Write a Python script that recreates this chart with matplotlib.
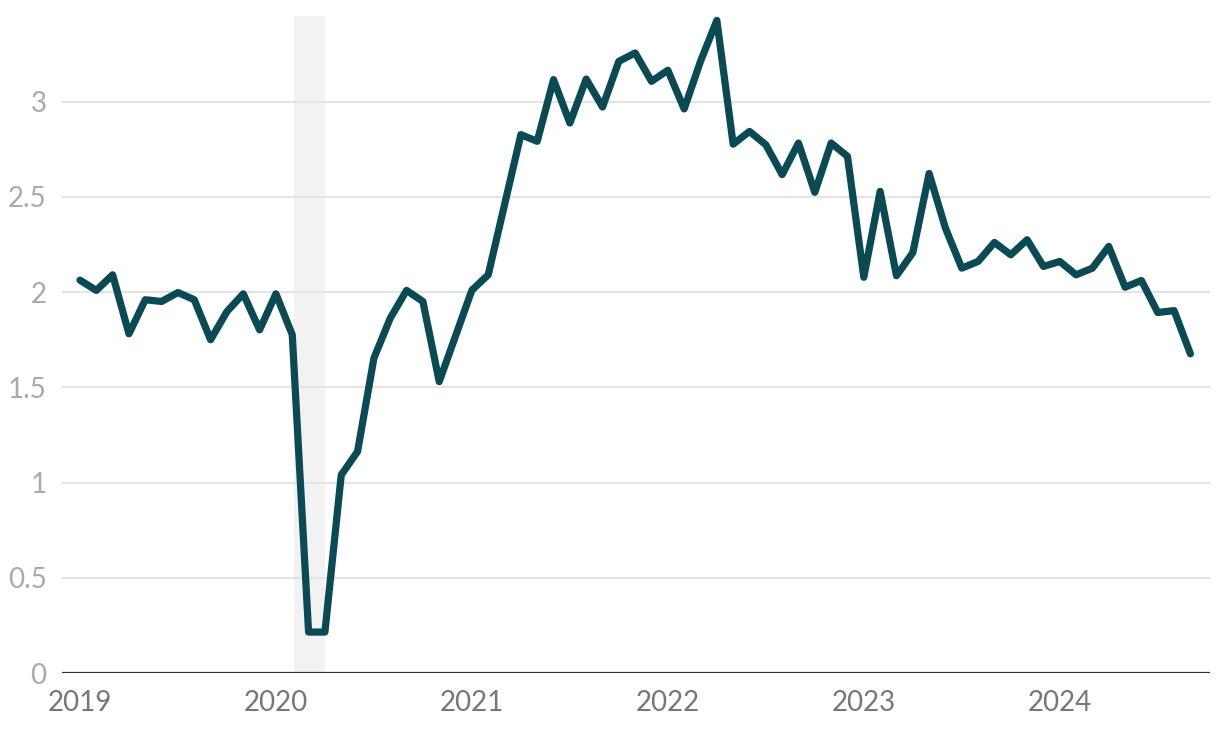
import numpy as np
import matplotlib.pyplot as plt

# monthly values, Jan 2019 .. Sep 2024
values = [2.063, 2.009, 2.091, 1.781, 1.960, 1.951, 1.998, 1.960, 1.750, 1.898, 1.991, 1.802,
          1.991, 1.776, 0.215, 0.215, 1.040, 1.163, 1.653, 1.863, 2.009, 1.951, 1.530, 1.770,
          2.010, 2.091, 2.459, 2.827, 2.792, 3.116, 2.888, 3.119, 2.972, 3.212, 3.256, 3.107,
          3.165, 2.962, 3.212, 3.427, 2.777, 2.844, 2.774, 2.617, 2.783, 2.524, 2.783, 2.713,
          2.078, 2.529, 2.086, 2.207, 2.623, 2.336, 2.126, 2.161, 2.261, 2.196, 2.275, 2.135,
          2.161, 2.091, 2.126, 2.240, 2.026, 2.061, 1.893, 1.903, 1.676]
years = ['2019', '2020', '2021', '2022', '2023', '2024']
y_ticks = [0, 0.5, 1, 1.5, 2, 2.5, 3]
y_labels = ['0', '0.5', '1', '1.5', '2', '2.5', '3']
# shaded period (month index, from Jan 2019)
band = [13.1, 15.0]

plt.rcParams['font.family'] = ['Lato', 'DejaVu Sans']

fig = plt.figure(figsize=(12.2, 7.36), dpi=100)
ax = fig.add_axes([62/1220, 1 - 673/736, (1210-62)/1220, (673-16)/736])

months = np.arange(len(values))
ax.axvspan(band[0], band[1], color='#f2f2f2', zorder=0, lw=0)
for yt in y_ticks[1:]:
    ax.axhline(yt, color='#e4e4e4', lw=1.5, zorder=1)
ax.axhline(0, color='#333333', lw=1.6, zorder=2)
ax.plot(months, values, color='#0a4a54', lw=5.2, solid_joinstyle='round',
        solid_capstyle='round', zorder=3, clip_on=False)

ax.set_xlim(-1.1, 69.2)
ax.set_ylim(0, 3.45)
ax.set_xticks(np.arange(len(years)) * 12)
ax.set_xticklabels(years, color='#777777', fontsize=20)
ax.set_yticks(y_ticks)
ax.set_yticklabels(y_labels, color='#aaaaaa', fontsize=20)
ax.tick_params(axis='both', length=0)
ax.tick_params(axis='y', pad=11)
ax.tick_params(axis='x', pad=12)
for s in ax.spines.values():
    s.set_visible(False)

fig.savefig('out.png', dpi=100)
